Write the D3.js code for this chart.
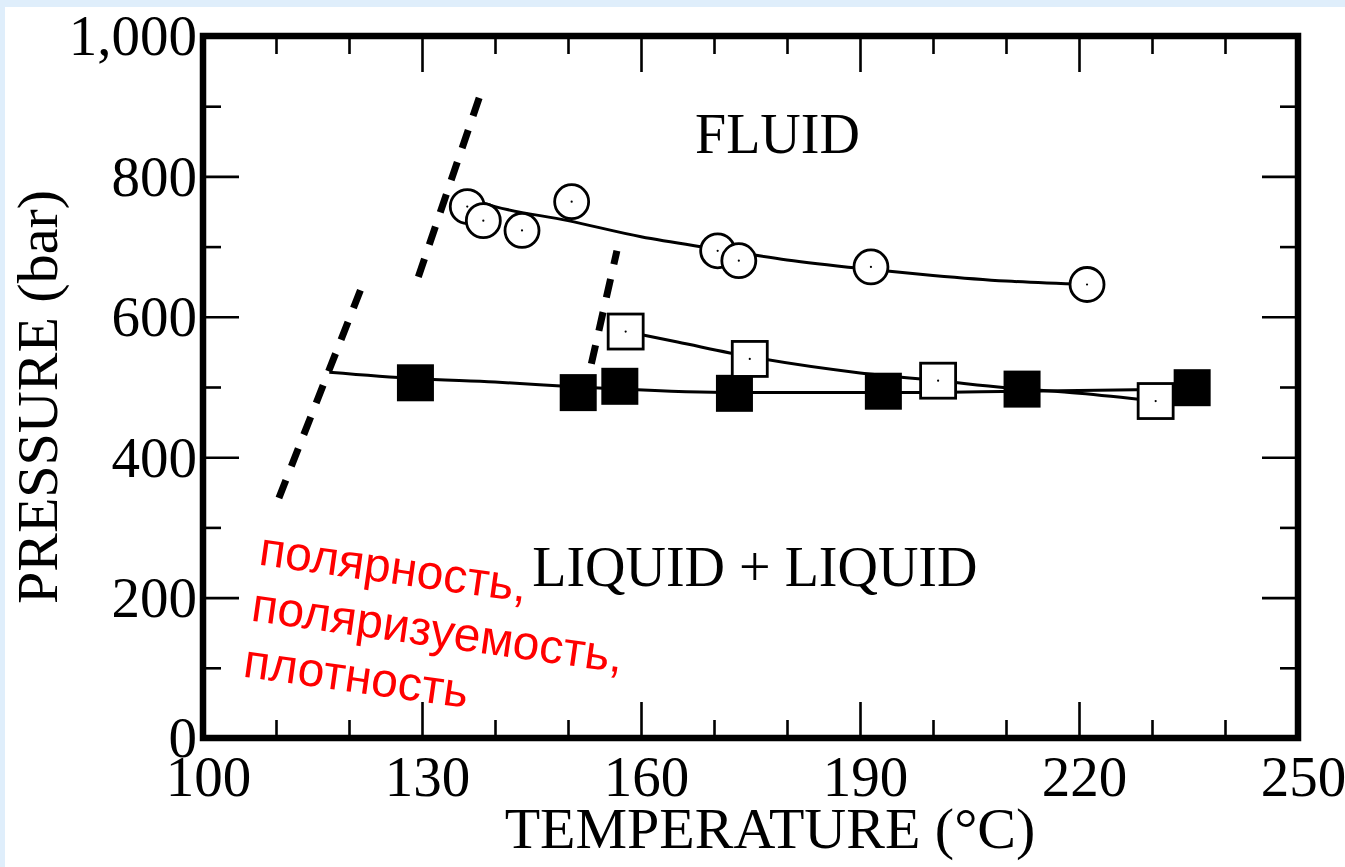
<!DOCTYPE html>
<html><head><meta charset="utf-8">
<script src="https://cdn.jsdelivr.net/npm/d3@7"></script>
<style>
html,body{margin:0;padding:0;background:#dfeefb;}
svg{display:block;}
</style></head><body>
<svg id="chart" width="1345" height="867"></svg>
<script>
// ---- data (temperature °C, pressure bar) ----
const circleT = [136.2, 138.4, 143.7, 150.5, 170.5, 173.4, 191.5, 221.1];
const circleP = [757, 737, 723, 764, 694, 680, 671, 646];
const openSqT = [157.9, 174.9, 200.7, 230.5];
const openSqP = [579, 540, 509, 480];
const filledSqT = [129.1, 151.4, 157.1, 172.8, 193.2, 212.2, 235.5];
const filledSqP = [506, 492, 501, 491, 494, 497, 499];
// fitted curves
const circleFitT = [136.5, 140, 150, 160, 170, 180, 190, 200, 210, 221.1];
const circleFitP = [768, 757, 737, 714, 697, 681, 669, 659, 651, 646];
const openFitT = [157.9, 165, 175, 190, 200.7, 210, 220, 230.5];
const openFitP = [579, 564, 543, 520, 509, 499, 491, 480];
const filledFitT = [117.3, 129, 140, 151.4, 157, 172.8, 193.2, 212.2, 235.5];
const filledFitP = [521, 512, 507, 500, 497, 492, 492, 494, 497];
// dashed boundary lines
const dash1T = [110.4, 121.8], dash1P = [342, 644];
const dash2T = [129.5, 137.9], dash2P = [657, 914];
const dash3T = [153.2, 156.7], dash3P = [533, 694];
// ticks
const xLabelTicks = [100, 130, 160, 190, 220, 250];
const xMajorTicks = [130, 160, 190, 220];
const xMinorTicks = [110, 120, 140, 150, 170, 180, 200, 210, 230, 240];
const yLabelTicks = [0, 200, 400, 600, 800, 1000];
const yMajorTicks = [200, 400, 600, 800];
const yMinorTicks = [100, 300, 500, 700, 900];
const xTitle = "TEMPERATURE (°C)";
const yTitle = "PRESSURE (bar)";
const regionLabels = [{t: "FLUID", T: 167.4, P: 833}, {t: "LIQUID + LIQUID", T: 145.1, P: 217}];
const noteLines = ["полярность,", "поляризуемость,", "плотность"];
const noteT = 107.5, noteP = 247;

const svg = d3.select("#chart");
svg.append("rect").attr("x", 5).attr("y", 7).attr("width", 1340).attr("height", 860).attr("fill", "#fff");

const x = d3.scaleLinear().domain([100, 250]).range([203, 1298]);
const y = d3.scaleLinear().domain([0, 1000]).range([738, 36]);
const serif = "'Liberation Serif','Times New Roman',serif";

// ticks
function tickAxis(axisFn, scale, vals, size, transform) {
  const g = svg.append("g").attr("transform", transform)
    .call(axisFn(scale).tickValues(vals).tickSize(size).tickFormat(""));
  g.select(".domain").remove();
  g.selectAll(".tick line").attr("stroke", "#000").attr("stroke-width", 2.6);
  return g;
}
tickAxis(d3.axisBottom, x, xMajorTicks, -36, `translate(0,${y(0)})`);
tickAxis(d3.axisBottom, x, xMinorTicks, -18, `translate(0,${y(0)})`);
tickAxis(d3.axisTop, x, xMajorTicks, -36, `translate(0,${y(1000)})`);
tickAxis(d3.axisTop, x, xMinorTicks, -18, `translate(0,${y(1000)})`);
tickAxis(d3.axisLeft, y, yMajorTicks, -36, `translate(${x(100)},0)`);
tickAxis(d3.axisLeft, y, yMinorTicks, -18, `translate(${x(100)},0)`);
tickAxis(d3.axisRight, y, yMajorTicks, -36, `translate(${x(250)},0)`);
tickAxis(d3.axisRight, y, yMinorTicks, -18, `translate(${x(250)},0)`);

// frame
svg.append("rect").attr("x", x(100)).attr("y", y(1000))
  .attr("width", x(250) - x(100)).attr("height", y(0) - y(1000))
  .attr("fill", "none").attr("stroke", "#000").attr("stroke-width", 6.5);

// tick labels
const xl = svg.append("g").attr("transform", `translate(0,${y(0)})`)
  .call(d3.axisBottom(x).tickValues(xLabelTicks).tickSize(0).tickFormat(d3.format("d")));
xl.select(".domain").remove();
xl.selectAll("text").attr("font-family", serif).attr("font-size", 57).attr("fill", "#000")
  .attr("y", 58).attr("dy", 0).attr("dx", 5);
const yl = svg.append("g").attr("transform", `translate(${x(100)},0)`)
  .call(d3.axisLeft(y).tickValues(yLabelTicks).tickSize(0).tickFormat(d3.format(",")));
yl.select(".domain").remove();
yl.selectAll("text").attr("font-family", serif).attr("font-size", 57).attr("fill", "#000")
  .attr("x", -6).attr("dy", "0.33em");

// axis titles
svg.append("text").attr("x", 770).attr("y", 848).attr("text-anchor", "middle")
  .attr("font-family", serif).attr("font-size", 58).text(xTitle);
svg.append("text").attr("transform", "translate(57,397) rotate(-90)").attr("text-anchor", "middle")
  .attr("font-family", serif).attr("font-size", 58).text(yTitle);

// region labels
svg.selectAll(".region").data(regionLabels).join("text")
  .attr("x", d => x(d.T)).attr("y", d => y(d.P))
  .attr("font-family", serif).attr("font-size", 56).text(d => d.t);

// dashed lines
const line = d3.line().x(d => x(d[0])).y(d => y(d[1]));
[[dash1T, dash1P], [dash2T, dash2P], [dash3T, dash3P]].forEach(([T, P]) => {
  svg.append("path").attr("d", line(d3.zip(T, P)))
    .attr("fill", "none").attr("stroke", "#000").attr("stroke-width", 7)
    .attr("stroke-dasharray", "19,15");
});

// fit curves
const curve = d3.line().x(d => x(d[0])).y(d => y(d[1])).curve(d3.curveMonotoneX);
[[filledFitT, filledFitP], [openFitT, openFitP], [circleFitT, circleFitP]].forEach(([T, P]) => {
  svg.append("path").attr("d", curve(d3.zip(T, P)))
    .attr("fill", "none").attr("stroke", "#000").attr("stroke-width", 3);
});

// markers
svg.selectAll(".fsq").data(d3.zip(filledSqT, filledSqP)).join("rect")
  .attr("x", d => x(d[0]) - 18.5).attr("y", d => y(d[1]) - 18.5)
  .attr("width", 37).attr("height", 37).attr("fill", "#000");
const osq = svg.selectAll(".osq").data(d3.zip(openSqT, openSqP)).join("g")
  .attr("transform", d => `translate(${x(d[0])},${y(d[1])})`);
osq.append("rect").attr("x", -17.5).attr("y", -17.5).attr("width", 35).attr("height", 35)
  .attr("fill", "#fff").attr("stroke", "#000").attr("stroke-width", 2.8);
osq.append("circle").attr("r", 1.1).attr("fill", "#000");
const circ = svg.selectAll(".circ").data(d3.zip(circleT, circleP)).join("g")
  .attr("transform", d => `translate(${x(d[0])},${y(d[1])})`);
circ.append("circle").attr("r", 17).attr("fill", "#fff").attr("stroke", "#000").attr("stroke-width", 2.8);
circ.append("circle").attr("r", 1.1).attr("fill", "#000");

// red note
const note = svg.append("g").attr("transform", `translate(${x(noteT)},${y(noteP)}) rotate(8)`);
note.selectAll("text").data(noteLines).join("text")
  .attr("x", 0).attr("y", (d, i) => i * 56.5)
  .attr("font-family", "'Liberation Sans', Arial, sans-serif").attr("font-size", 48)
  .attr("fill", "#ff0000").text(d => d);
</script>
</body></html>
